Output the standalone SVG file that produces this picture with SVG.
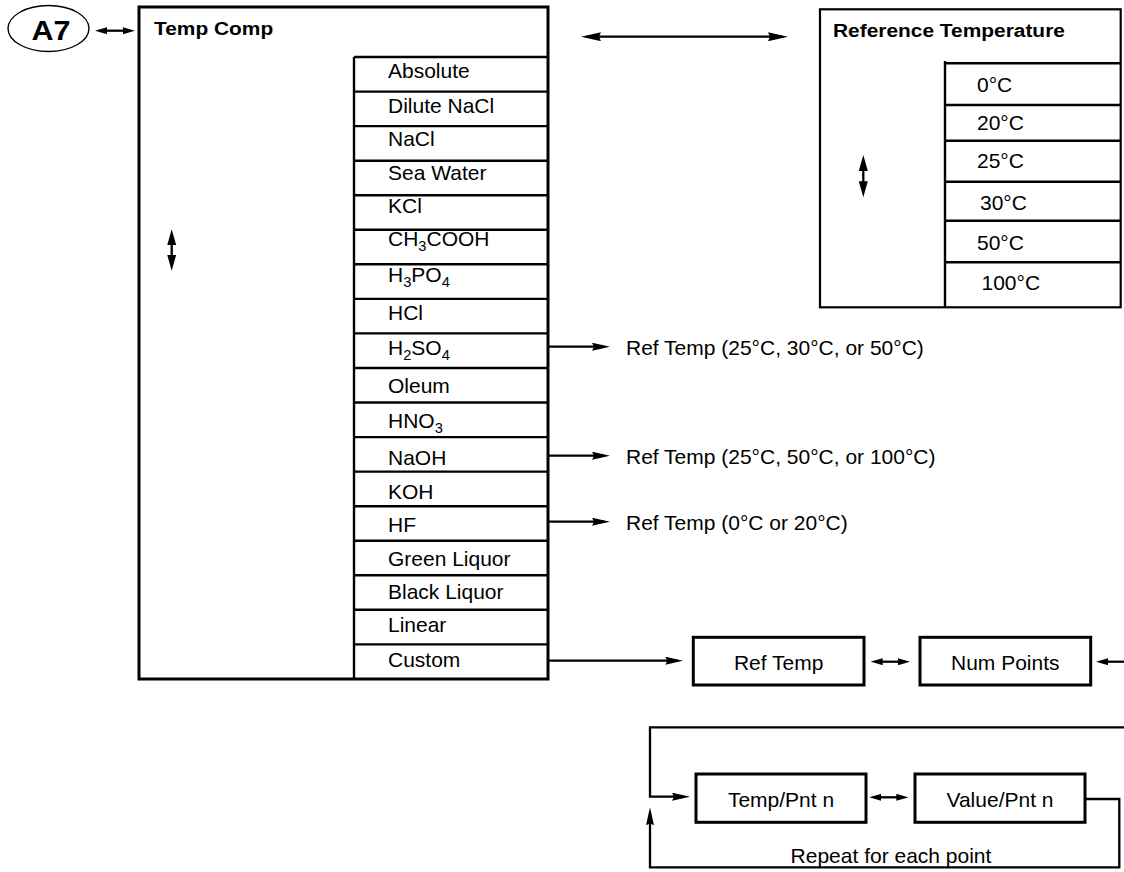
<svg xmlns="http://www.w3.org/2000/svg" width="1124" height="872" viewBox="0 0 1124 872">
<style>
.box{fill:#fff;stroke:#000;stroke-width:3}
.ln{fill:none;stroke:#000;stroke-width:2.4}
.cn{fill:none;stroke:#000;stroke-width:2.3}
text{font-family:"Liberation Sans",Arial,sans-serif;fill:#000}
.t{font-size:20px;transform-box:fill-box;transform-origin:0 0;transform:scaleX(1.05)}
.tm{font-size:20px;text-anchor:middle;transform-box:fill-box;transform-origin:50% 0;transform:scaleX(1.05)}
.b{font-size:19px;font-weight:bold;transform-box:fill-box;transform-origin:0 0;transform:scaleX(1.1)}
.s{font-size:14px}
</style>
<defs>
<marker id="ah" viewBox="0 0 18 8" refX="12" refY="4" markerWidth="18" markerHeight="8" markerUnits="userSpaceOnUse" orient="auto-start-reverse"><path d="M0,0 L18,4 L0,8 L2,4 z"/></marker>
<marker id="ab" viewBox="0 0 20 9" refX="14" refY="4.5" markerWidth="20" markerHeight="9" markerUnits="userSpaceOnUse" orient="auto-start-reverse"><path d="M0,0 L20,4.5 L0,9 L2,4.5 z"/></marker>
<marker id="as" viewBox="0 0 12 7" refX="7" refY="3.5" markerWidth="12" markerHeight="7" markerUnits="userSpaceOnUse" orient="auto-start-reverse"><path d="M0,0 L12,3.5 L0,7 z"/></marker>
<marker id="av" viewBox="0 0 16 9" refX="10" refY="4.5" markerWidth="16" markerHeight="9" markerUnits="userSpaceOnUse" orient="auto-start-reverse"><path d="M0,0 L16,4.5 L0,9 z"/></marker>
</defs>

<g id="a7">
<ellipse cx="48.5" cy="28.5" rx="40.5" ry="23" fill="#fff" stroke="#000" stroke-width="1.4"/>
<text x="51" y="40" font-size="28" font-weight="bold" text-anchor="middle" style="transform-box:fill-box;transform-origin:50% 0;transform:scaleX(1.09)">A7</text>
</g>

<g id="temp-comp">
<rect class="box" x="139" y="7" width="409" height="672"/>
<text class="b" x="154" y="35">Temp Comp</text>
<path class="ln" d="M354,57 V679 M354,57 H548 M354,91.6 H548 M354,126.1 H548 M354,160.7 H548 M354,195.2 H548 M354,229.8 H548 M354,264.3 H548 M354,298.9 H548 M354,333.4 H548 M354,368 H548 M354,402.5 H548 M354,437.1 H548 M354,471.6 H548 M354,506.2 H548 M354,540.7 H548 M354,575.3 H548 M354,609.8 H548 M354,644.4 H548"/>
<text class="t" x="388" y="78.5">Absolute</text>
<text class="t" x="388" y="113">Dilute NaCl</text>
<text class="t" x="388" y="146.5">NaCl</text>
<text class="t" x="388" y="180.5">Sea Water</text>
<text class="t" x="388" y="213">KCl</text>
<text class="t" x="388" y="246.5">CH<tspan class="s" dy="5">3</tspan><tspan dy="-5">COOH</tspan></text>
<text class="t" x="388" y="282">H<tspan class="s" dy="5">3</tspan><tspan dy="-5">PO</tspan><tspan class="s" dy="5">4</tspan></text>
<text class="t" x="388" y="320">HCl</text>
<text class="t" x="388" y="355.5">H<tspan class="s" dy="5">2</tspan><tspan dy="-5">SO</tspan><tspan class="s" dy="5">4</tspan></text>
<text class="t" x="388" y="393.5">Oleum</text>
<text class="t" x="388" y="428">HNO<tspan class="s" dy="5">3</tspan></text>
<text class="t" x="388" y="465">NaOH</text>
<text class="t" x="388" y="499.5">KOH</text>
<text class="t" x="388" y="532">HF</text>
<text class="t" x="388" y="566">Green Liquor</text>
<text class="t" x="388" y="599.5">Black Liquor</text>
<text class="t" x="388" y="632.5">Linear</text>
<text class="t" x="388" y="667">Custom</text>
</g>

<g id="reference-temperature">
<rect x="820" y="9.3" width="300.7" height="298" fill="#fff" stroke="#000" stroke-width="2.2"/>
<text class="b" x="833" y="36.7">Reference Temperature</text>
<path class="ln" d="M945,61 V307.3 M945,63.3 H1120.7 M945,105 H1120.7 M945,140.7 H1120.7 M945,181.7 H1120.7 M945,220.7 H1120.7 M945,262.3 H1120.7"/>
<text class="t" x="977" y="92">0°C</text>
<text class="t" x="977" y="130.5">20°C</text>
<text class="t" x="977" y="168.5">25°C</text>
<text class="t" x="980" y="210.5">30°C</text>
<text class="t" x="977" y="250.5">50°C</text>
<text class="t" x="981.5" y="290.5">100°C</text>
</g>

<g id="ref-temp-h2so4"><text class="t" x="626" y="355">Ref Temp (25°C, 30°C, or 50°C)</text></g>
<g id="ref-temp-naoh"><text class="t" x="626" y="464">Ref Temp (25°C, 50°C, or 100°C)</text></g>
<g id="ref-temp-hf"><text class="t" x="626" y="530">Ref Temp (0°C or 20°C)</text></g>

<g id="ref-temp-box">
<rect class="box" x="693.3" y="637.3" width="170.7" height="47.7"/>
<text class="tm" x="778.7" y="670">Ref Temp</text>
</g>
<g id="num-points">
<rect class="box" x="920" y="637.3" width="170.7" height="47.7"/>
<text class="tm" x="1005.3" y="670">Num Points</text>
</g>
<g id="temp-pnt">
<rect class="box" x="696" y="774" width="170" height="48.3"/>
<text class="tm" x="781" y="806.7">Temp/Pnt n</text>
</g>
<g id="value-pnt">
<rect class="box" x="915" y="774" width="170" height="48.3"/>
<text class="tm" x="1000" y="806.7">Value/Pnt n</text>
</g>
<g id="repeat-label">
<text class="tm" x="891" y="863">Repeat for each point</text>
</g>

<g id="connectors">
<line class="cn" x1="100" y1="30.7" x2="130" y2="30.7" marker-start="url(#as)" marker-end="url(#as)"/>
<line class="cn" x1="587" y1="36.7" x2="782" y2="36.7" stroke-width="2.7" marker-start="url(#ab)" marker-end="url(#ab)"/>
<line class="cn" x1="171.7" y1="235.3" x2="171.7" y2="264.7" stroke-width="3" marker-start="url(#av)" marker-end="url(#av)"/>
<line class="cn" x1="863.3" y1="161" x2="863.3" y2="191.3" stroke-width="3" marker-start="url(#av)" marker-end="url(#av)"/>
<line class="cn" x1="548" y1="346.7" x2="604" y2="346.7" marker-end="url(#ah)"/>
<line class="cn" x1="548" y1="455.7" x2="604" y2="455.7" marker-end="url(#ah)"/>
<line class="cn" x1="548" y1="521.7" x2="604" y2="521.7" marker-end="url(#ah)"/>
<line class="cn" x1="548" y1="660.7" x2="677.3" y2="660.7" marker-end="url(#ah)"/>
<line class="cn" x1="875.7" y1="661.7" x2="905" y2="661.7" marker-start="url(#as)" marker-end="url(#as)"/>
<line class="cn" x1="1124" y1="661.7" x2="1101" y2="661.7" marker-end="url(#as)"/>
<path class="cn" d="M1124,727.3 H650 V796.7 H684" stroke-width="3" marker-end="url(#ah)"/>
<line class="cn" x1="874.3" y1="797.3" x2="903.3" y2="797.3" marker-start="url(#as)" marker-end="url(#as)"/>
<path class="cn" d="M1085,799 H1119.3 V867.3 H650 V813.3" stroke-width="3" marker-end="url(#ah)"/>
</g>
</svg>
